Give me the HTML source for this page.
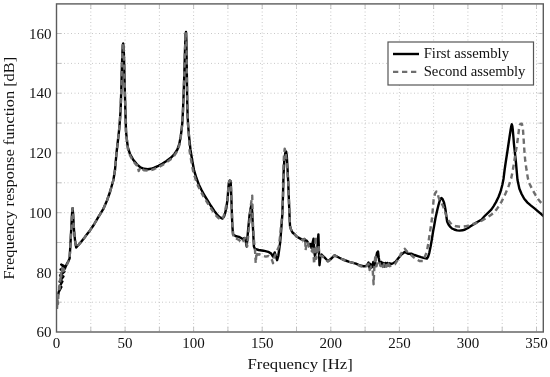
<!DOCTYPE html>
<html><head><meta charset="utf-8"><style>
html,body{margin:0;padding:0;background:#fff;}
body{width:550px;height:377px;overflow:hidden;}
svg{display:block;filter:blur(0.3px);}
</style></head><body>
<svg width="550" height="377" viewBox="0 0 550 377">
<defs><clipPath id="c"><rect x="56.5" y="3.9" width="486.8" height="328.1"/></clipPath></defs>
<path d="M90.8,4.5V331 M125.1,4.5V331 M159.4,4.5V331 M193.6,4.5V331 M227.9,4.5V331 M262.2,4.5V331 M296.5,4.5V331 M330.8,4.5V331 M365.1,4.5V331 M399.4,4.5V331 M433.6,4.5V331 M467.9,4.5V331 M502.2,4.5V331 M536.5,4.5V331 M57,302.2H543 M57,272.4H543 M57,242.5H543 M57,212.7H543 M57,182.8H543 M57,152.9H543 M57,123.1H543 M57,93.2H543 M57,63.4H543 M57,33.5H543" stroke="#c2c2c2" stroke-width="0.9" stroke-dasharray="1 2.5" fill="none"/>
<path d="M90.8,331.3V327M90.8,4.6V9 M125.1,331.3V327M125.1,4.6V9 M159.4,331.3V327M159.4,4.6V9 M193.6,331.3V327M193.6,4.6V9 M227.9,331.3V327M227.9,4.6V9 M262.2,331.3V327M262.2,4.6V9 M296.5,331.3V327M296.5,4.6V9 M330.8,331.3V327M330.8,4.6V9 M365.1,331.3V327M365.1,4.6V9 M399.4,331.3V327M399.4,4.6V9 M433.6,331.3V327M433.6,4.6V9 M467.9,331.3V327M467.9,4.6V9 M502.2,331.3V327M502.2,4.6V9 M536.5,331.3V327M536.5,4.6V9 M57.2,302.2H61.5M542.6,302.2H538.3 M57.2,272.4H61.5M542.6,272.4H538.3 M57.2,242.5H61.5M542.6,242.5H538.3 M57.2,212.7H61.5M542.6,212.7H538.3 M57.2,182.8H61.5M542.6,182.8H538.3 M57.2,152.9H61.5M542.6,152.9H538.3 M57.2,123.1H61.5M542.6,123.1H538.3 M57.2,93.2H61.5M542.6,93.2H538.3 M57.2,63.4H61.5M542.6,63.4H538.3 M57.2,33.5H61.5M542.6,33.5H538.3" stroke="#b4b4b4" stroke-width="0.8" fill="none"/>
<g clip-path="url(#c)" fill="none" stroke-linejoin="round">
<path d="M58.3,294.5 L58.7,292.0 L61.4,287.0 L59.1,287.5 L62.4,281.5 L59.6,281.5 L63.4,276.5 L60.1,275.5 L64.4,271.5 L60.6,269.5 L65.0,268.5 L61.2,264.5 L63.2,265.5 L65.4,267.2 L66.8,264.1 L68.3,261.2 L69.6,258.5 L70.4,245.0 L71.4,226.0 L72.2,211.0 L72.6,208.3 L73.1,214.0 L74.0,230.0 L75.2,242.0 L76.2,247.5 L78.0,245.5 L80.0,243.2 L84.2,238.1 L86.4,235.0 L90.0,230.4 L93.7,225.0 L98.0,217.7 L103.2,209.2 L107.0,200.5 L110.0,192.0 L113.4,180.0 L115.0,170.0 L116.5,153.0 L118.0,140.0 L119.0,131.0 L119.8,122.0 L120.6,110.0 L121.3,90.0 L121.8,70.0 L122.3,55.0 L122.8,45.0 L123.2,43.5 L123.7,50.0 L124.2,65.0 L124.8,90.0 L125.5,115.0 L126.0,131.0 L127.0,141.0 L128.0,148.0 L130.0,154.0 L133.0,159.4 L136.5,163.8 L140.4,167.3 L144.0,168.8 L147.8,169.3 L151.0,168.8 L154.3,167.6 L158.5,165.8 L162.6,163.5 L166.5,161.0 L170.8,157.8 L174.5,154.0 L177.4,149.5 L179.3,144.0 L180.7,136.4 L181.6,130.0 L182.3,123.0 L183.0,110.0 L183.6,95.0 L184.3,75.0 L185.0,50.0 L185.6,34.0 L186.0,32.0 L186.4,40.0 L186.8,70.0 L187.2,100.0 L187.6,115.0 L188.1,125.0 L188.9,135.0 L190.5,150.0 L192.5,162.0 L194.0,170.0 L196.4,178.0 L198.8,184.5 L201.4,189.7 L204.5,195.5 L208.0,201.2 L211.2,206.3 L214.5,211.1 L217.0,214.5 L219.5,217.0 L222.5,218.6 L224.0,216.6 L225.0,213.6 L226.3,208.2 L227.6,199.0 L228.3,188.3 L229.0,182.0 L229.8,180.6 L230.6,181.0 L231.0,188.0 L231.6,204.9 L232.3,225.0 L233.0,234.5 L236.0,236.3 L239.0,236.9 L241.0,238.0 L243.1,239.3 L244.5,238.0 L245.5,240.0 L246.7,246.5 L247.9,232.2 L249.5,215.5 L250.7,208.0 L251.6,204.5 L252.2,212.0 L252.8,224.8 L253.9,246.5 L255.0,248.9 L258.6,250.0 L263.4,250.7 L268.2,251.8 L271.2,253.6 L273.0,256.6 L274.7,252.4 L277.1,260.2 L278.3,256.0 L280.1,242.9 L281.2,230.0 L282.3,215.0 L283.0,195.0 L283.5,175.0 L284.2,162.0 L285.3,153.0 L286.1,151.5 L286.8,156.0 L287.5,168.0 L288.2,182.0 L288.9,200.0 L289.5,215.0 L290.0,226.0 L291.0,229.5 L292.5,232.5 L294.3,234.0 L297.0,236.8 L300.3,238.6 L303.0,240.0 L304.5,239.0 L305.3,241.5 L306.5,240.5 L307.7,242.0 L309.0,246.0 L310.5,244.0 L311.5,248.0 L312.5,243.0 L313.6,238.6 L314.3,252.0 L315.0,256.0 L316.0,250.0 L317.0,252.0 L318.4,234.4 L318.9,250.0 L319.5,265.2 L320.5,255.6 L321.5,254.5 L323.0,256.0 L324.7,257.7 L326.5,259.5 L327.9,260.9 L329.5,260.0 L331.0,258.8 L334.5,255.4 L337.8,257.0 L342.8,259.5 L349.3,261.9 L355.9,263.6 L360.0,265.5 L363.6,266.2 L366.0,266.0 L367.4,264.5 L368.5,262.5 L369.6,268.0 L370.5,264.0 L371.5,267.5 L372.7,266.0 L373.3,262.0 L374.2,267.0 L375.0,262.0 L376.0,258.0 L377.0,253.0 L378.0,251.4 L378.8,258.0 L379.5,262.0 L380.5,265.0 L381.5,262.0 L382.5,265.5 L383.5,263.0 L384.5,266.5 L385.5,263.0 L386.5,266.0 L387.5,263.0 L388.5,265.5 L389.8,263.3 L391.5,264.0 L393.5,263.0 L395.6,261.8 L398.1,258.6 L401.4,254.5 L404.7,252.0 L408.0,253.7 L411.3,253.7 L414.5,255.0 L417.8,256.1 L421.0,257.2 L424.4,258.1 L426.9,258.6 L428.2,256.5 L429.3,252.8 L430.5,247.0 L431.8,239.7 L433.0,232.0 L434.3,225.0 L435.5,218.0 L436.4,214.0 L437.5,209.0 L438.5,205.0 L439.8,200.5 L441.3,198.0 L442.5,199.0 L444.0,202.5 L445.0,207.0 L445.6,210.5 L446.3,216.0 L447.1,221.4 L448.5,224.5 L449.8,226.3 L452.0,228.5 L454.2,229.5 L457.0,230.4 L459.6,230.6 L462.5,230.3 L465.1,229.5 L468.0,228.0 L470.5,226.3 L473.5,224.5 L476.4,222.5 L481.4,219.7 L484.7,216.0 L488.0,212.8 L491.3,209.6 L493.5,206.3 L496.0,202.1 L498.5,197.0 L500.6,191.5 L502.3,185.0 L503.5,179.0 L504.6,170.0 L505.6,163.0 L506.6,156.5 L507.6,150.0 L508.6,143.3 L509.6,136.5 L510.6,130.0 L511.3,126.0 L511.8,124.3 L512.3,126.0 L512.8,130.0 L513.4,137.0 L513.9,143.3 L514.6,150.0 L515.3,156.5 L516.0,163.0 L516.6,169.8 L517.5,180.0 L519.4,188.8 L521.6,194.0 L524.2,198.8 L527.5,202.6 L531.0,205.6 L534.5,208.4 L538.0,211.3 L541.0,213.8 L544.0,216.5" stroke="#000" stroke-width="2.4"/>
<path d="M57.0,309.0 L57.5,300.0 L58.0,304.0 L58.4,295.0 L58.8,292.0 L59.5,284.5 L59.6,289.0 L60.2,279.0 L60.3,283.0 L61.0,271.5 L61.2,276.5 L62.2,270.5 L62.4,266.0 L63.6,271.0 L64.6,268.5 L66.0,266.5 L67.5,263.5 L68.8,260.8 L69.6,258.5 L70.4,245.0 L71.4,226.0 L72.2,211.0 L72.6,208.3 L73.1,214.0 L74.0,230.0 L75.2,242.0 L76.2,247.5 L78.0,245.5 L80.0,243.2 L84.2,238.1 L86.4,235.0 L90.0,230.4 L93.7,225.0 L98.0,217.7 L103.2,209.2 L107.0,200.5 L110.0,192.0 L113.4,180.0 L115.0,170.0 L116.5,153.0 L118.0,140.0 L119.0,131.0 L119.8,122.0 L120.6,110.0 L121.3,90.0 L121.8,70.0 L122.3,55.0 L122.8,45.0 L123.2,43.5 L123.7,50.0 L124.2,65.0 L124.8,90.0 L125.5,115.0 L126.0,131.0 L127.0,141.0 L128.0,149.4 L130.0,155.4 L133.0,160.8 L136.5,165.2 L137.5,165.0 L138.7,171.0 L140.4,167.5 L144.0,170.2 L147.8,170.7 L151.0,170.2 L154.3,169.0 L158.5,167.2 L162.6,164.9 L166.5,162.4 L170.8,159.2 L174.5,155.4 L177.4,150.9 L179.3,145.4 L180.7,137.8 L181.6,130.0 L182.3,123.0 L183.0,110.0 L183.6,95.0 L184.3,75.0 L185.0,50.0 L185.6,34.0 L186.0,32.0 L186.4,40.0 L186.8,70.0 L187.2,100.0 L187.6,115.0 L188.1,125.0 L188.9,135.0 L189.6,151.1 L191.6,163.1 L193.1,171.1 L195.5,179.1 L197.9,185.6 L200.5,190.8 L203.6,196.6 L207.1,202.3 L210.3,207.4 L213.6,212.2 L216.1,215.6 L218.6,218.1 L221.6,219.7 L223.1,217.7 L224.1,214.7 L225.4,209.3 L227.6,199.0 L228.3,188.3 L229.0,182.0 L229.8,180.6 L230.6,181.0 L231.0,188.0 L231.6,204.9 L232.3,225.0 L233.6,237.5 L236.0,238.5 L239.0,240.0 L241.9,242.9 L243.5,240.0 L245.0,238.0 L246.0,241.0 L247.2,246.3 L248.5,232.0 L249.8,218.0 L250.9,204.9 L252.2,195.6 L252.6,210.0 L253.0,225.0 L253.9,240.0 L255.0,250.0 L255.7,263.2 L256.5,252.0 L257.5,255.0 L259.2,254.2 L262.0,255.5 L265.8,256.6 L268.5,256.0 L270.5,258.0 L272.0,260.0 L273.0,263.2 L274.0,258.0 L275.3,254.8 L277.0,251.0 L278.9,246.5 L280.1,236.0 L281.0,226.0 L282.3,215.0 L283.0,195.0 L283.3,170.0 L284.0,155.0 L284.7,148.6 L285.5,152.0 L286.5,160.0 L287.3,170.0 L288.2,182.0 L288.9,200.0 L289.5,215.0 L290.0,226.0 L291.0,229.5 L292.5,232.5 L294.3,234.0 L297.0,236.8 L300.3,238.6 L303.0,240.5 L305.1,238.0 L305.6,250.3 L306.5,244.0 L307.7,241.8 L309.0,247.0 L310.5,249.0 L312.0,251.4 L313.0,246.0 L314.1,264.1 L315.0,250.0 L315.7,236.5 L316.2,258.8 L317.5,252.0 L318.5,245.0 L319.3,255.0 L320.5,255.6 L322.0,256.0 L324.7,258.5 L327.9,261.5 L331.0,259.5 L334.5,255.4 L337.8,257.0 L342.8,259.5 L349.3,261.9 L355.9,263.6 L360.0,266.0 L363.6,267.0 L366.0,267.0 L367.4,265.0 L368.5,264.0 L369.6,270.0 L371.1,266.5 L372.7,270.0 L373.6,284.3 L374.3,268.0 L375.4,254.6 L376.5,266.2 L377.5,262.0 L379.1,261.0 L380.5,266.0 L381.5,263.5 L382.8,267.0 L384.0,264.0 L385.2,268.0 L386.5,265.0 L387.5,268.0 L388.5,264.0 L389.7,266.2 L391.8,265.0 L394.8,264.3 L399.0,258.0 L402.0,252.0 L404.7,248.7 L407.0,251.5 L409.6,253.7 L414.0,257.5 L419.5,261.0 L422.8,261.0 L424.8,257.0 L426.9,251.2 L428.2,244.0 L429.3,236.4 L430.6,228.0 L431.8,220.0 L432.5,212.7 L433.6,200.0 L435.0,193.5 L436.4,191.5 L437.5,193.0 L438.5,197.0 L439.8,201.0 L441.3,203.0 L443.0,206.0 L444.5,210.0 L446.0,215.0 L447.4,219.0 L450.4,223.0 L452.4,224.9 L456.4,226.3 L461.0,226.8 L465.6,226.3 L470.0,225.0 L474.9,223.5 L478.5,222.3 L482.5,220.3 L486.5,218.0 L490.2,215.4 L493.3,213.3 L496.6,209.4 L499.0,206.0 L501.3,202.1 L503.3,198.2 L505.2,194.2 L507.0,190.2 L508.6,186.2 L510.0,182.2 L511.2,178.3 L512.3,173.0 L513.2,167.7 L513.9,163.5 L514.7,158.5 L515.6,152.5 L516.6,147.0 L517.5,141.0 L518.3,135.0 L519.0,129.0 L519.8,125.0 L520.8,123.6 L521.8,123.8 L522.5,126.0 L523.0,130.0 L523.5,137.0 L523.9,143.3 L524.5,152.5 L525.2,160.5 L526.5,169.8 L527.9,178.4 L529.4,183.4 L532.4,189.6 L535.7,195.4 L538.0,199.0 L540.6,202.3 L544.0,205.0" stroke="#6e6e6e" stroke-width="2.4" stroke-dasharray="5.3 3.7"/>
</g>
<rect x="56.5" y="3.9" width="486.8" height="328.1" fill="none" stroke="#5c5c5c" stroke-width="1.4"/>
<rect x="388" y="42" width="145.5" height="43" fill="#fff" stroke="#555" stroke-width="1.2"/>
<path d="M393,54H419" stroke="#000" stroke-width="2.4"/>
<path d="M393,71.9H419" stroke="#6e6e6e" stroke-width="2.4" stroke-dasharray="5.3 3.7"/>
<text x="423.7" y="57.6" font-family='"Liberation Serif", serif' font-size="14.2" fill="#111" textLength="85.3" lengthAdjust="spacingAndGlyphs">First assembly</text>
<text x="423.7" y="75.6" font-family='"Liberation Serif", serif' font-size="14.2" fill="#111" textLength="101.8" lengthAdjust="spacingAndGlyphs">Second assembly</text>
<text x="51.6" y="337.2" text-anchor="end" font-family='"Liberation Serif", serif' font-size="15" fill="#111">60</text>
<text x="51.6" y="277.5" text-anchor="end" font-family='"Liberation Serif", serif' font-size="15" fill="#111">80</text>
<text x="51.6" y="217.8" text-anchor="end" font-family='"Liberation Serif", serif' font-size="15" fill="#111">100</text>
<text x="51.6" y="158.0" text-anchor="end" font-family='"Liberation Serif", serif' font-size="15" fill="#111">120</text>
<text x="51.6" y="98.3" text-anchor="end" font-family='"Liberation Serif", serif' font-size="15" fill="#111">140</text>
<text x="51.6" y="38.6" text-anchor="end" font-family='"Liberation Serif", serif' font-size="15" fill="#111">160</text>
<text x="56.5" y="347.7" text-anchor="middle" font-family='"Liberation Serif", serif' font-size="15" fill="#111">0</text>
<text x="125.1" y="347.7" text-anchor="middle" font-family='"Liberation Serif", serif' font-size="15" fill="#111">50</text>
<text x="193.6" y="347.7" text-anchor="middle" font-family='"Liberation Serif", serif' font-size="15" fill="#111">100</text>
<text x="262.2" y="347.7" text-anchor="middle" font-family='"Liberation Serif", serif' font-size="15" fill="#111">150</text>
<text x="330.8" y="347.7" text-anchor="middle" font-family='"Liberation Serif", serif' font-size="15" fill="#111">200</text>
<text x="399.4" y="347.7" text-anchor="middle" font-family='"Liberation Serif", serif' font-size="15" fill="#111">250</text>
<text x="467.9" y="347.7" text-anchor="middle" font-family='"Liberation Serif", serif' font-size="15" fill="#111">300</text>
<text x="536.5" y="347.7" text-anchor="middle" font-family='"Liberation Serif", serif' font-size="15" fill="#111">350</text>
<text x="247.6" y="369.4" font-family='"Liberation Serif", serif' font-size="15.2" fill="#111" textLength="105.2" lengthAdjust="spacingAndGlyphs">Frequency [Hz]</text>
<text transform="translate(14.3,279.4) rotate(-90)" x="0" y="0" font-family='"Liberation Serif", serif' font-size="14.9" fill="#111" textLength="222.5" lengthAdjust="spacingAndGlyphs">Frequency response function [dB]</text>
</svg>
</body></html>
